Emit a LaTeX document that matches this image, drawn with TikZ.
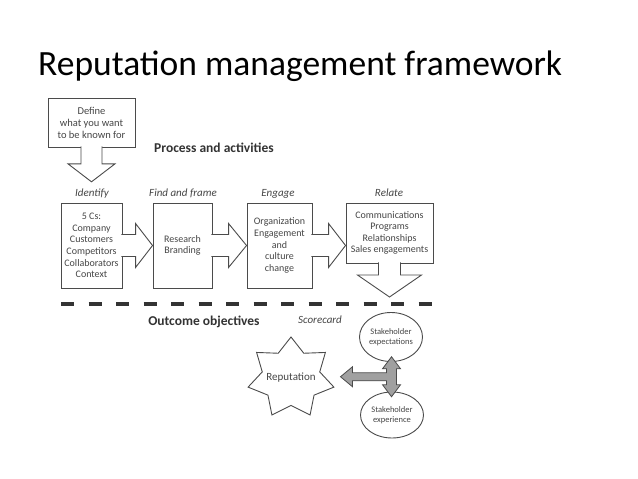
\documentclass[tikz,border=0pt]{standalone}
\usepackage{fontspec}
\setmainfont{Carlito}
\usetikzlibrary{shapes.geometric,calc}
\definecolor{lineGray}{RGB}{75,75,75}
\definecolor{textGray}{RGB}{70,70,70}
\definecolor{fatGray}{RGB}{160,160,160}

\tikzset{
  stagebox/.style={draw=lineGray, line width=0.9pt, fill=white, align=center,
    font=\fontsize{10}{11.6}\selectfont, text=textGray, inner sep=0pt},
  stagelabel/.style={font=\fontsize{11}{12}\selectfont\itshape, text=textGray, anchor=base},
  blockarrow/.style={draw=lineGray, line width=0.9pt, fill=white, line join=miter},
  fatarrow/.style={draw=lineGray, line width=0.8pt, fill=fatGray, line join=miter},
  heading/.style={font=\fontsize{13.5}{14}\selectfont\bfseries, text=black!80, anchor=base},
  outcome/.style={draw=lineGray, line width=0.9pt, fill=white, align=center,
    font=\fontsize{8.5}{10.5}\selectfont, text=textGray, inner sep=0pt},
}

\begin{document}
\begin{tikzpicture}[x=1pt,y=-1pt]
  \fill[white] (0,0) rectangle (638,479);
  \useasboundingbox (0,0) rectangle (638,479);
  \node[anchor=base west, inner sep=0pt, font=\fontsize{35.5}{40}\selectfont] (title) at (38,75) {Reputation management framework};

  % what to be known for
  \node[stagebox, minimum width=87pt, minimum height=49pt, font=\fontsize{10.5}{12}\selectfont] (def) at (91.5,122.5) {Define\\what you want\\to be known for};
  \node[heading] (proc) at (214,152) {Process and activities};

  % stage labels
  \node[stagelabel] (idlbl) at (92,196) {Identify};
  \node[stagelabel] (fflbl) at (183,196) {Find and frame};
  \node[stagelabel] (englbl) at (278,196) {Engage};
  \node[stagelabel] (rellbl) at (389,196) {Relate};

  % stage boxes
  \node[stagebox, minimum width=61pt, minimum height=85pt] (idb) at (91.5,245.5) {5 Cs:\\Company\\Customers\\Competitors\\Collaborators\\Context};
  \node[stagebox, minimum width=59pt, minimum height=85pt] (ffb) at (182.5,245.5) {Research\\Branding};
  \node[stagebox, minimum width=65pt, minimum height=85pt] (engb) at (279.5,245.5) {Organization\\Engagement\\and\\culture\\change};
  \node[stagebox, minimum width=87pt, minimum height=60pt] (relb) at (389.5,233) {Communications\\Programs\\Relationships\\Sales engagements};

  % block arrows
  \draw[blockarrow] let \p1=(def.south), \p2=($(idlbl.north)+(0,-3)$) in
    (\x1-10.5,\y1+1) -- (\x1-10.5,\y2+18) -- (\x1-23.5,\y2+18) -- (\x1,\y2)
    -- (\x1+23.5,\y2+18) -- (\x1+10.5,\y2+18) -- (\x1+10.5,\y1+1);
  \draw[blockarrow] let \p1=(idb.east), \p2=(ffb.west) in
    (\x1-1,\y1+11) -- (\x2-17,\y1+11) -- (\x2-17,\y1+22) -- (\x2,\y1)
    -- (\x2-17,\y1-22) -- (\x2-17,\y1-11) -- (\x1-1,\y1-11);
  \draw[blockarrow] let \p1=(ffb.east), \p2=(engb.west) in
    (\x1-1,\y1+11) -- (\x2-18,\y1+11) -- (\x2-18,\y1+22) -- (\x2,\y1)
    -- (\x2-18,\y1-22) -- (\x2-18,\y1-11) -- (\x1-1,\y1-11);
  \draw[blockarrow] let \p1=(engb.east), \p2=(relb.west) in
    (\x1-1,\y1+11) -- (\x2-17,\y1+11) -- (\x2-17,\y1+22) -- (\x2,\y1)
    -- (\x2-17,\y1-22) -- (\x2-17,\y1-11) -- (\x1-1,\y1-11);
  \coordinate (reltip) at (389.5,297);
  \draw[blockarrow] let \p1=(relb.south), \p2=(reltip) in
    (\x1-11,\y1+1) -- (\x1-11,\y2+22) -- (\x1-32,\y2+22) -- (\x2,\y2)
    -- (\x1+32,\y2+22) -- (\x1+11,\y2+22) -- (\x1+11,\y1+1);

  % separator
  \coordinate (sepl) at (61,304);
  \coordinate (sepr) at (432,304);
  \draw[black!80, line width=4pt, dash pattern=on 13.3pt off 14.2pt] (sepl) -- (sepr);

  \node[heading] (outc) at (204,325) {Outcome objectives};
  \node[stagelabel] (score) at (320,323) {Scorecard};

  % outcomes
  \node[outcome, ellipse, minimum width=63pt, minimum height=49pt] (shexp) at (391,337) {Stakeholder\\expectations};
  \node[outcome, ellipse, minimum width=63pt, minimum height=46pt] (shexc) at (392,415) {Stakeholder\\experience};
  \node[font=\fontsize{11}{12}\selectfont, text=textGray, inner sep=0pt] (rep) at (291,378) {Reputation};
  \draw[draw=lineGray, line width=0.9pt, line join=miter, shift={(rep.center)}]
    plot[samples at={0,...,13}] ({(1-0.33*mod(\x,2))*44*cos(\x*360/14-90)}, {(1-0.33*mod(\x,2))*41*sin(\x*360/14-90)}) -- cycle;

  \coordinate (hub) at ($(shexp.south)!0.5!(shexc.north)$);
  \draw[fatarrow] (hub) ++(0,-20) -- ++(9,12) -- ++(-4,0) -- ++(0,16) -- ++(4,0)
    -- ++(-9,12) -- ++(-9,-12) -- ++(4,0) -- ++(0,-4) -- ++(-34,0) -- ++(0,6)
    -- ++(-12,-10) -- ++(12,-10) -- ++(0,6) -- ++(34,0) -- ++(0,-4) -- ++(-4,0) -- cycle;
\end{tikzpicture}
\end{document}
